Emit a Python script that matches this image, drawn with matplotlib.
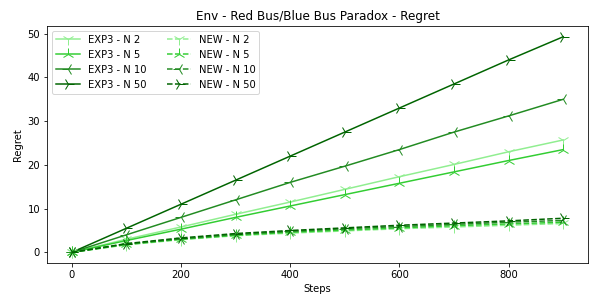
import numpy as np
import matplotlib
matplotlib.use("Agg")
import matplotlib.pyplot as plt

steps = [0, 100, 200, 300, 400, 500, 600, 700, 800, 900]
agents = ["N 2", "N 5", "N 10", "N 50"]

# EXP3 regret per agent count
exp3_n2 = [0, 3.0, 5.8, 8.7, 11.5, 14.4, 17.3, 20.1, 23.0, 25.7]
exp3_n5 = [0, 2.7, 5.3, 8.0, 10.6, 13.2, 15.8, 18.4, 21.0, 23.5]
exp3_n10 = [0, 4.0, 8.0, 12.0, 16.0, 19.7, 23.5, 27.5, 31.2, 35.0]
exp3_n50 = [0, 5.5, 11.0, 16.5, 22.0, 27.5, 33.0, 38.5, 44.0, 49.3]

# NEW regret per agent count
new_n2 = [0, 1.7, 2.9, 3.8, 4.4, 4.9, 5.4, 5.8, 6.2, 6.6]
new_n5 = [0, 1.8, 3.0, 3.9, 4.6, 5.1, 5.6, 6.1, 6.5, 6.9]
new_n10 = [0, 1.9, 3.1, 4.1, 4.8, 5.4, 5.9, 6.4, 6.9, 7.3]
new_n50 = [0, 2.0, 3.3, 4.3, 5.0, 5.6, 6.2, 6.7, 7.2, 7.8]

colors = ["lightgreen", "limegreen", "forestgreen", "darkgreen"]
markers = ["1", "2", "3", "4"]

exp3 = [exp3_n2, exp3_n5, exp3_n10, exp3_n50]
new = [new_n2, new_n5, new_n10, new_n50]

fig, ax = plt.subplots(figsize=(589 / 72, 295 / 72), dpi=72)
fig.subplots_adjust(left=0.08, right=0.998, top=0.912, bottom=0.108)

handles = []
for name, vals, c, m in zip(agents, exp3, colors, markers):
    h, = ax.plot(steps, vals, color=c, marker=m, markersize=12, linestyle="-", label="EXP3 - " + name)
    handles.append(h)
for name, vals, c, m in zip(agents, new, colors, markers):
    h, = ax.plot(steps, vals, color=c, marker=m, markersize=12, linestyle="--", label="NEW - " + name)
    handles.append(h)

ax.set_title("Env - Red Bus/Blue Bus Paradox - Regret")
ax.set_xlabel("Steps")
ax.set_ylabel("Regret")
ax.legend(handles=handles, ncol=2, loc="upper left", handlelength=2.4)

fig.savefig("out.png", dpi=72)
